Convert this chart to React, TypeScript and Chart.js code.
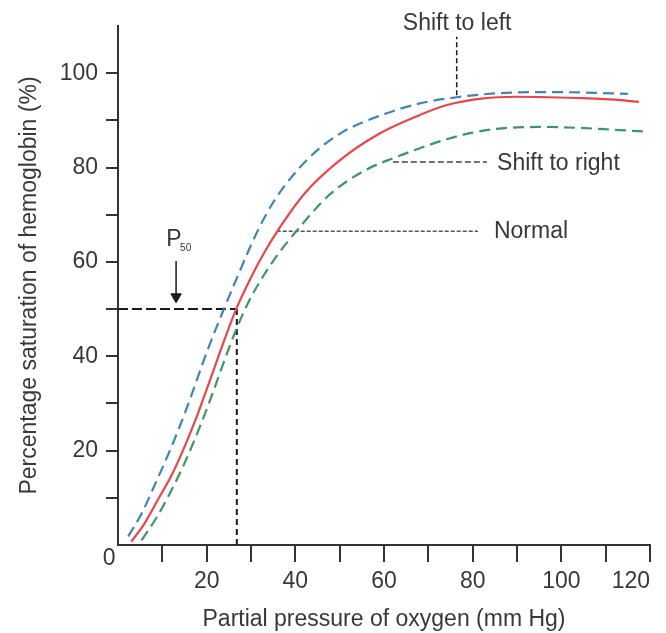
import React, { useEffect, useRef } from 'react';
import { Chart, registerables } from 'chart.js';

Chart.register(...registerables);

// ---------- Data ----------
// Partial pressure of oxygen (mm Hg) and % saturation of hemoglobin

const pressureLeft = [2.3, 5.3, 8.7, 11.7, 15.1, 20.4, 24.1, 27, 31.3, 35.4, 42.6, 50.1, 60.6, 68.1, 76.4, 85, 95, 105, 115];
const saturationLeft = [1.8, 6.6, 13.6, 20, 28, 41.8, 50.5, 57, 66.2, 73.2, 81.6, 87.2, 91.5, 93.6, 94.9, 95.7, 96, 95.9, 95.6];

const pressureNormal = [3, 6, 9, 12, 15, 18, 21, 24, 26.8, 30, 33, 36, 42, 50, 59, 68, 74, 82, 90, 97, 105, 112, 117.5];
const saturationNormal = [0.7, 4.6, 9.6, 14.6, 20.8, 27.8, 35.6, 43.5, 50.3, 56.7, 62, 66.6, 74.4, 81.5, 87.2, 91.1, 93.2, 94.6, 95, 94.9, 94.7, 94.4, 93.9];

const pressureRight = [5.3, 8.5, 11.5, 14.5, 17.5, 20.5, 23.5, 26.5, 29.5, 32.5, 36, 40.3, 47.8, 56.1, 62.1, 68.1, 74.1, 80, 85.4, 95, 104.2, 112, 119.3];
const saturationRight = [1, 5.5, 10.6, 16.3, 22.8, 30, 37.8, 45.3, 51.6, 56.6, 61.5, 66.6, 74.3, 79.6, 82, 84.1, 86, 87.4, 88.2, 88.6, 88.4, 88, 87.6];

// P50 of the normal curve
const P50_PRESSURE = 26.8;
const P50_SATURATION = 50;

// Arrow marking P50 (pressure, saturation from / to)
const arrowPressure = 13.1;
const arrowSaturation = [60.2, 52.6];

// Label pointer lines: [pressure, saturation] pairs
const normalPointer = [[35.8, 66.5], [81.2, 66.5]];
const rightPointer = [[62, 81.2], [83.2, 81.2]];
const leftPointer = [[76.4, 95.3], [76.4, 107.7]];

// Axis ticks
const xTickLabels = [20, 40, 60, 80, 100, 120];
const yTickLabels = [20, 40, 60, 80, 100];

// Text annotations anchored in data coordinates
const annotationTexts = [
  { text: 'Shift to left', x: 76.5, y: 110.6, align: 'center', size: 23 },
  { text: 'Shift to right', x: 85.5, y: 80.9, align: 'left', size: 23 },
  { text: 'Normal', x: 84.8, y: 66.5, align: 'left', size: 23 },
  { text: 'P', x: 10.9, y: 64.8, align: 'left', size: 23 },
  { text: '50', x: 14.0, y: 62.9, align: 'left', size: 10 },
  { text: '0', x: -2, y: -2.8, align: 'center', size: 23 },
];

// ---------- Styles ----------
const FONT = '"Liberation Sans", Arial, Helvetica, sans-serif';
const TEXT = '#383838';
const AXIS = '#333333';
const RED = '#e8464a';
const BLUE = '#3f86b2';
const GREEN = '#3e9660';

const toPoints = (xs: number[], ys: number[]) => xs.map((x, i) => ({ x, y: ys[i] }));
const pairPoints = (pairs: number[][]) => pairs.map(([x, y]) => ({ x, y }));

const textPlugin = {
  id: 'annotationTexts',
  afterDraw(chart: any) {
    const { ctx, scales } = chart;
    const xs = scales.x;
    const ys = scales.y;
    ctx.save();
    ctx.fillStyle = TEXT;
    ctx.textBaseline = 'middle';
    for (const a of annotationTexts) {
      ctx.font = `${a.size}px ${FONT}`;
      ctx.textAlign = a.align;
      ctx.fillText(a.text, xs.getPixelForValue(a.x), ys.getPixelForValue(a.y));
    }
    ctx.restore();
  },
};

export default function App() {
  const ref = useRef<HTMLCanvasElement>(null);

  useEffect(() => {
    if (!ref.current) return;
    const guide = {
      borderColor: '#1a1a1a',
      borderWidth: 2,
      pointRadius: 0,
      tension: 0,
      fill: false,
    };
    const chart = new Chart(ref.current, {
      type: 'line',
      data: {
        datasets: [
          {
            label: 'Shift to left',
            data: toPoints(pressureLeft, saturationLeft),
            borderColor: BLUE,
            borderWidth: 2.2,
            borderDash: [11, 6],
            pointRadius: 0,
            cubicInterpolationMode: 'monotone',
            fill: false,
          },
          {
            label: 'Normal',
            data: toPoints(pressureNormal, saturationNormal),
            borderColor: RED,
            borderWidth: 2.2,
            pointRadius: 0,
            cubicInterpolationMode: 'monotone',
            fill: false,
          },
          {
            label: 'Shift to right',
            data: toPoints(pressureRight, saturationRight),
            borderColor: GREEN,
            borderWidth: 2.2,
            borderDash: [11, 6],
            pointRadius: 0,
            cubicInterpolationMode: 'monotone',
            fill: false,
          },
          {
            label: 'P50 horizontal',
            data: [{ x: 0, y: P50_SATURATION }, { x: P50_PRESSURE, y: P50_SATURATION }],
            ...guide,
            borderDash: [10, 4],
          },
          {
            label: 'P50 vertical',
            data: [{ x: P50_PRESSURE, y: P50_SATURATION }, { x: P50_PRESSURE, y: 0 }],
            ...guide,
            borderDash: [6, 4],
          },
          {
            label: 'P50 arrow',
            data: [{ x: arrowPressure, y: arrowSaturation[0] }, { x: arrowPressure, y: arrowSaturation[1] }],
            ...guide,
            borderWidth: 1.5,
          },
          {
            label: 'P50 arrowhead',
            data: [{ x: arrowPressure, y: arrowSaturation[1] }],
            showLine: false,
            pointStyle: 'triangle',
            pointRotation: 180,
            pointRadius: 6,
            pointBackgroundColor: '#1a1a1a',
            pointBorderColor: '#1a1a1a',
            pointBorderWidth: 1,
          },
          {
            label: 'Normal pointer',
            data: pairPoints(normalPointer),
            ...guide,
            borderColor: '#555555',
            borderWidth: 1.6,
            borderDash: [4, 2],
          },
          {
            label: 'Shift right pointer',
            data: pairPoints(rightPointer),
            ...guide,
            borderColor: '#444444',
            borderWidth: 1.5,
            borderDash: [6, 3],
          },
          {
            label: 'Shift left pointer',
            data: pairPoints(leftPointer),
            ...guide,
            borderWidth: 1.5,
            borderDash: [5, 3],
          },
        ],
      },
      options: {
        responsive: false,
        animation: false,
        devicePixelRatio: 1,
        layout: { padding: { top: 26, right: 16, left: 0, bottom: 0 } },
        plugins: {
          legend: { display: false },
          tooltip: { enabled: false },
          title: { display: false },
        },
        elements: { point: { radius: 0 } },
        scales: {
          x: {
            type: 'linear',
            min: 0,
            max: 120,
            ticks: {
              stepSize: 10,
              autoSkip: false,
              maxRotation: 0,
              align: 'inner',
              padding: 6,
              color: TEXT,
              font: { family: FONT, size: 23 },
              callback: (v: any) => (v === 0 ? null : xTickLabels.includes(v) ? String(v) : ''),
            },
            grid: {
              drawOnChartArea: false,
              drawTicks: true,
              tickLength: 17,
              lineWidth: 2,
              tickWidth: 2,
              color: AXIS,
              tickColor: AXIS,
            },
            border: { display: true, color: AXIS, width: 2 },
            title: {
              display: true,
              text: 'Partial pressure of oxygen (mm Hg)',
              color: TEXT,
              font: { family: FONT, size: 23 },
              padding: { top: 0, bottom: 0 },
            },
            afterFit: (s: any) => {
              s.height = 88;
              s.paddingLeft = 0;
              s.paddingRight = 0;
            },
          },
          y: {
            type: 'linear',
            min: 0,
            max: 110,
            ticks: {
              stepSize: 10,
              autoSkip: false,
              padding: 8,
              color: TEXT,
              font: { family: FONT, size: 23 },
              callback: (v: any) => (v === 0 || v === 110 ? null : yTickLabels.includes(v) ? String(v) : ''),
            },
            grid: {
              drawOnChartArea: false,
              drawTicks: true,
              tickLength: 12,
              lineWidth: 2,
              tickWidth: 2,
              color: AXIS,
              tickColor: AXIS,
            },
            border: { display: true, color: AXIS, width: 2 },
            title: {
              display: true,
              text: 'Percentage saturation of hemoglobin (%)',
              color: TEXT,
              font: { family: FONT, size: 23 },
              padding: { top: 16, bottom: 0 },
            },
            afterFit: (s: any) => {
              s.width = 118;
              s.paddingTop = 0;
              s.paddingBottom = 0;
            },
          },
        },
      },
      plugins: [textPlugin],
    } as any);
    return () => chart.destroy();
  }, []);

  return (
    <div style={{ position: 'fixed', left: 0, top: 0, width: 666, height: 633, background: '#ffffff' }}>
      <canvas ref={ref} width={666} height={633} style={{ display: 'block', width: 666, height: 633 }} />
    </div>
  );
}
